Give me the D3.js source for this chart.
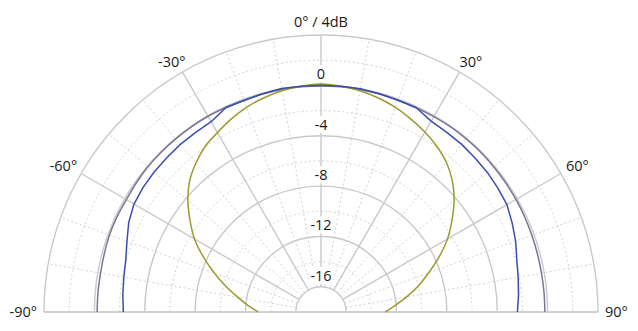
<!DOCTYPE html>
<html>
<head>
<meta charset="utf-8">
<script src="https://cdn.jsdelivr.net/npm/d3@7"></script>
<style>
  html, body { margin: 0; padding: 0; background: #fff; }
  svg { display: block; }
  text { font-family: "Open Sans", "Noto Sans", sans-serif; fill: #1a1a1a; }
</style>
</head>
<body>
<svg id="chart" width="638" height="331"></svg>
<script>
// ---- data ----
const angles = [-90,-85,-80,-75,-70,-65,-60,-55,-50,-45,-40,-35,-30,-25,-20,-15,-10,-5,0,5,10,15,20,25,30,35,40,45,50,55,60,65,70,75,80,85,90];
const grayDb  = [-0.22,-0.22,-0.22,-0.18,-0.12,-0.12,-0.15,-0.1,-0.05,-0.05,-0.05,-0.05,-0.05,-0.08,-0.1,-0.08,-0.05,-0.05,-0.05,-0.05,-0.05,-0.08,-0.1,-0.1,-0.08,-0.05,-0.05,-0.05,-0.08,-0.1,-0.12,-0.15,-0.18,-0.2,-0.22,-0.22,-0.22];
const blueDb  = [-2.3,-2.2,-2.1,-1.95,-1.6,-1.15,-0.85,-0.75,-0.7,-0.68,-0.62,-0.6,-0.55,-0.1,-0.12,-0.06,0.03,0.0,0.0,0.0,0.0,-0.05,-0.1,-0.1,-0.5,-0.58,-0.62,-0.7,-0.75,-0.85,-0.95,-1.25,-1.55,-1.9,-2.1,-2.25,-2.4];
const oliveDb = [-13.0,-12.2,-11.3,-10.2,-9.0,-7.7,-6.4,-5.3,-4.2,-3.25,-2.55,-1.95,-1.55,-1.1,-0.7,-0.4,-0.15,0.0,0.1,0.0,-0.15,-0.4,-0.7,-1.1,-1.5,-1.95,-2.5,-3.25,-4.2,-5.3,-6.4,-7.65,-8.9,-10.0,-11.1,-12.1,-12.9];

const solidRings = [4, 0, -4, -8, -12, -16];
const dottedRings = [2, -2, -6, -10, -14];
const dbLabels = [0, -4, -8, -12, -16];
const solidSpokes = [-90, -60, -30, 0, 30, 60, 90];
const dottedSpokes = [-80, -70, -50, -40, -20, -10, 10, 20, 40, 50, 70, 80];
const angleLabels = [
  { a: -90, t: "-90°" }, { a: -60, t: "-60°" }, { a: -30, t: "-30°" },
  { a: 30, t: "30°" }, { a: 60, t: "60°" }, { a: 90, t: "90°" }
];
const topLabel = "0° / 4dB";

// ---- layout ----
const cx = 321, cy = 312, R = 277;
const FS = 14.5;
const svg = d3.select("#chart");
const g = svg.append("g").attr("transform", `translate(${cx},${cy})`);
const r = d3.scaleLinear().domain([-18, 4]).range([0, R]);
const rad = a => a * Math.PI / 180;

function halfArc(rr) {
  const p = d3.path();
  p.moveTo(-rr, 0);
  p.arc(0, 0, rr, Math.PI, 2 * Math.PI);
  return p.toString();
}
const gridCol = "#c9c9c9";
const dotCol = "#d2d2d2";

// dotted rings
g.selectAll(".dring").data(dottedRings).join("path")
  .attr("d", d => halfArc(r(d)))
  .attr("fill", "none").attr("stroke", dotCol).attr("stroke-width", 1)
  .attr("stroke-dasharray", "2,2.5");
// dotted spokes
g.selectAll(".dspoke").data(dottedSpokes).join("line")
  .attr("x1", d => r(-16) * Math.sin(rad(d))).attr("y1", d => -r(-16) * Math.cos(rad(d)))
  .attr("x2", d => R * Math.sin(rad(d))).attr("y2", d => -R * Math.cos(rad(d)))
  .attr("stroke", dotCol).attr("stroke-width", 1).attr("stroke-dasharray", "2,2.5");
// solid rings
g.selectAll(".sring").data(solidRings).join("path")
  .attr("d", d => halfArc(r(d)))
  .attr("fill", "none").attr("stroke", gridCol).attr("stroke-width", 1.4);
// solid spokes
g.selectAll(".sspoke").data(solidSpokes).join("line")
  .attr("x1", d => r(-16) * Math.sin(rad(d))).attr("y1", d => -r(-16) * Math.cos(rad(d)))
  .attr("x2", d => R * Math.sin(rad(d))).attr("y2", d => -R * Math.cos(rad(d)))
  .attr("stroke", gridCol).attr("stroke-width", 1.4);
// baseline
g.append("line").attr("x1", -R).attr("x2", R).attr("y1", 0).attr("y2", 0)
  .attr("stroke", "#d0d0d0").attr("stroke-width", 2.2);

// dB labels with white knock-out
const lab = g.selectAll(".dbl").data(dbLabels).join("g");
lab.append("text")
  .attr("x", 0).attr("y", d => -r(d) - 6)
  .attr("text-anchor", "middle").attr("font-size", FS)
  .text(d => d);
lab.each(function() {
  const t = d3.select(this).select("text");
  const b = t.node().getBBox();
  d3.select(this).insert("rect", "text")
    .attr("x", b.x - 1).attr("y", b.y + 1).attr("width", b.width + 2).attr("height", b.height - 2)
    .attr("fill", "#fff");
});

// angle labels
g.selectAll(".al").data(angleLabels).join("text")
  .attr("font-size", FS)
  .attr("text-anchor", d => d.a < 0 ? "end" : "start")
  .attr("x", d => {
    const x = R * Math.sin(rad(d.a));
    if (Math.abs(d.a) === 90) return x + (d.a < 0 ? -7 : 7);
    if (Math.abs(d.a) === 60) return x + (d.a < 0 ? -4 : 5);
    return x + (d.a < 0 ? 3 : 0);
  })
  .attr("y", d => {
    const y = -R * Math.cos(rad(d.a));
    if (Math.abs(d.a) === 90) return y + 5;
    if (Math.abs(d.a) === 60) return y - 3;
    return y - 5;
  })
  .text(d => d.t);
g.append("text").attr("x", 0).attr("y", -R - 8).attr("text-anchor", "middle")
  .attr("font-size", FS).text(topLabel);

// curves
const series = [
  { vals: grayDb, col: "#7a7693", curve: d3.curveCatmullRom },
  { vals: oliveDb, col: "#9b9a2e", curve: d3.curveCatmullRom },
  { vals: blueDb, col: "#3c4db0", curve: d3.curveLinear }
];
g.selectAll(".curve").data(series).join("path")
  .attr("d", s => d3.lineRadial()
      .angle(d => rad(d[0]))
      .radius(d => r(d[1]))
      .curve(s.curve)(angles.map((a, i) => [a, s.vals[i]])))
  .attr("fill", "none").attr("stroke", s => s.col).attr("stroke-width", 1.5)
  .attr("stroke-linejoin", "round");
</script>
</body>
</html>
